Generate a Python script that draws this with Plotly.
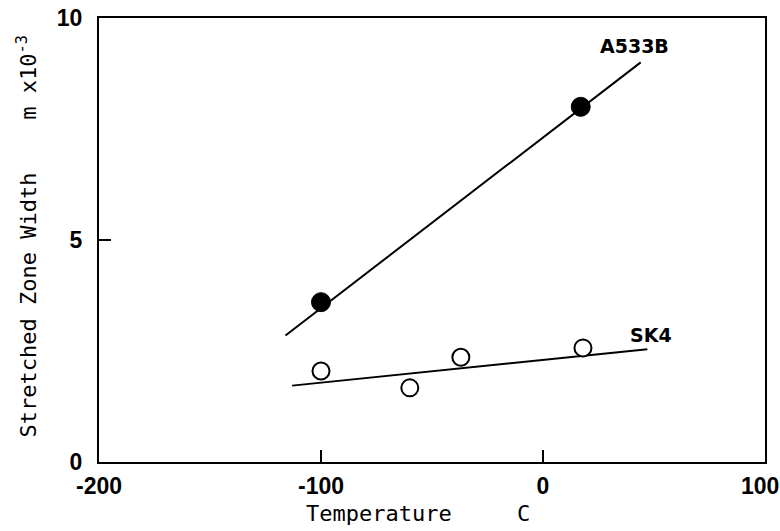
import plotly.graph_objects as go

# Data
a533b_temp = [-100, 17]
a533b_szw = [3.6, 8.0]
a533b_fit_temp = [-116, 44]
a533b_fit_szw = [2.85, 9.0]

sk4_temp = [-100, -60, -37, 18]
sk4_szw = [2.05, 1.67, 2.36, 2.57]
sk4_fit_temp = [-113, 47]
sk4_fit_szw = [1.72, 2.54]

x_ticks = [-200, -100, 0, 100]
x_ticktext = ["-200", "-100", "0", "100"]
y_ticks = [0, 5, 10]

fig = go.Figure()
fig.add_trace(go.Scatter(x=a533b_fit_temp, y=a533b_fit_szw, mode="lines",
                         line=dict(color="black", width=2), showlegend=False))
fig.add_trace(go.Scatter(x=sk4_fit_temp, y=sk4_fit_szw, mode="lines",
                         line=dict(color="black", width=2), showlegend=False))
fig.add_trace(go.Scatter(x=a533b_temp, y=a533b_szw, mode="markers",
                         marker=dict(size=19, color="black", line=dict(color="black", width=1)),
                         showlegend=False))
fig.add_trace(go.Scatter(x=sk4_temp, y=sk4_szw, mode="markers",
                         marker=dict(size=17, color="white", line=dict(color="black", width=2)),
                         showlegend=False))

tickfont = dict(family="Liberation Sans", size=23, color="black", weight="bold")
# last x label is drawn as an annotation so it stays inside the page
fig.update_xaxes(range=[-200, 100], tickvals=x_ticks[:-1],
                 ticktext=x_ticktext[:-1], ticks="inside", ticklen=12,
                 tickwidth=2, tickcolor="black", showline=True, linecolor="black",
                 linewidth=2, mirror=True, showgrid=False, zeroline=False,
                 tickfont=tickfont, ticklabelstandoff=2, ticklabeloverflow="allow",
                 automargin=False)
fig.update_yaxes(range=[0, 10], tickvals=y_ticks, ticks="inside", ticklen=12,
                 tickwidth=2, tickcolor="black", showline=True, linecolor="black",
                 linewidth=2, mirror=True, showgrid=False, zeroline=False,
                 tickfont=tickfont, ticklabelstandoff=10, ticklabeloverflow="allow",
                 automargin=False)

titlefont = dict(family="DejaVu Sans Mono", size=22, color="black")
labelfont = dict(family="DejaVu Sans", size=19, color="black", weight="bold")
fig.update_layout(
    width=780, height=531,
    margin=dict(l=99, r=15, t=18, b=69),
    plot_bgcolor="white", paper_bgcolor="white",
    annotations=[
        dict(text="Stretched Zone Width    m x10<sup>-3</sup>", xref="paper", yref="paper",
             x=-0.108, y=0.508, textangle=-90, showarrow=False, font=titlefont,
             xanchor="center", yanchor="middle"),
        dict(text="Temperature", xref="paper", yref="paper", x=0.421, y=-0.117,
             showarrow=False, font=titlefont, xanchor="center", yanchor="middle"),
        dict(text="C", xref="paper", yref="paper", x=0.638, y=-0.117,
             showarrow=False, font=titlefont, xanchor="center", yanchor="middle"),
        dict(text=x_ticktext[-1], x=x_ticks[-1], xref="x", yref="paper", y=0,
             yshift=-24, xshift=-5, showarrow=False, font=tickfont,
             xanchor="center", yanchor="middle"),
        dict(text="A533B", x=41.4, y=9.37, showarrow=False, font=labelfont,
             xanchor="center", yanchor="middle"),
        dict(text="SK4", x=48.6, y=2.86, showarrow=False, font=labelfont,
             xanchor="center", yanchor="middle"),
    ],
)

fig.write_html("out.html")
